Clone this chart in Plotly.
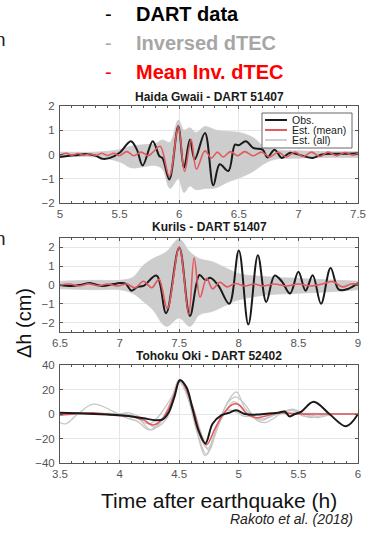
import plotly.graph_objects as go

W, H = 374, 547

# ---------------- data ----------------
# Panel 1: Haida Gwaii - DART 51407
hg_obs_t = [5.0, 5.08, 5.15, 5.22, 5.3, 5.36, 5.42, 5.5, 5.595, 5.645, 5.694, 5.778, 5.834, 5.86, 5.917,
            5.992, 6.04, 6.09, 6.13, 6.216, 6.286, 6.34, 6.412, 6.468, 6.5, 6.56, 6.62, 6.70, 6.74, 6.80,
            6.86, 6.93, 7.03, 7.12, 7.2, 7.3, 7.4, 7.5]
hg_obs_v = [-0.1, -0.05, -0.02, 0.02, -0.05, -0.18, -0.14, 0.07, 0.55, 0.2, -0.45, 0.55, -0.07, -0.15, -1.03,
            1.16, -0.55, 0.62, -0.2, 0.89, -1.27, -0.4, -0.68, 0.41, 0.38, 0.55, 0.27, 0.2, -0.12, 0.2,
            -0.14, 0.07, -0.05, -0.14, 0.0, 0.03, 0.03, 0.05]
hg_mean_t = [5.0, 5.05, 5.1, 5.15, 5.2, 5.25, 5.3, 5.35, 5.4, 5.45, 5.5, 5.56, 5.62, 5.68, 5.74, 5.78, 5.84,
             5.917, 5.992, 6.045, 6.10, 6.145, 6.216, 6.27, 6.32, 6.37, 6.43, 6.49, 6.55, 6.62, 6.69, 6.76,
             6.83, 6.9, 6.97, 7.04, 7.11, 7.18, 7.25, 7.32, 7.39, 7.46, 7.5]
hg_mean_v = [-0.05, 0.05, -0.03, 0.04, -0.03, 0.03, -0.04, 0.05, -0.04, 0.05, -0.05, 0.12, -0.05, 0.1, -0.05,
             0.1, 0.34, -0.9, 1.16, -0.7, 0.62, -0.6, 0.15, -0.15, 0.1, -0.1, 0.12, -0.05, 0.12, -0.05, 0.1,
             -0.1, 0.1, -0.1, 0.1, -0.08, 0.1, -0.08, 0.1, -0.05, 0.08, -0.03, 0.05]
hg_all_t = [5.0, 5.3, 5.5, 5.6, 5.7, 5.8, 5.86, 5.923, 5.993, 6.04, 6.09, 6.14, 6.216, 6.31, 6.40, 6.51,
            6.62, 6.705, 6.8, 7.0, 7.2, 7.5]
hg_all_hi = [0.1, 0.1, 0.2, 0.35, 0.4, 0.45, 0.6, 0.5, 1.42, 1.0, 1.1, 0.9, 1.15, 1.0, 0.95, 0.9, 0.7, 0.35,
             0.2, 0.15, 0.12, 0.12]
hg_all_lo = [-0.1, -0.1, -0.3, -0.55, -0.5, -0.45, -0.6, -1.4, -1.0, -1.57, -1.3, -1.45, -1.4, -1.37, -1.15,
             -0.95, -0.7, -0.4, -0.2, -0.15, -0.12, -0.12]

# Panel 2: Kurils - DART 51407
ku_obs_t = [6.5, 6.6, 6.68, 6.75, 6.85, 6.95, 7.0, 7.05, 7.1, 7.15, 7.2, 7.31, 7.39, 7.5, 7.59, 7.67, 7.72,
            7.76, 7.83, 7.92, 8.0, 8.08, 8.16, 8.23, 8.3, 8.36, 8.43, 8.5, 8.56, 8.62, 8.69, 8.77, 8.84, 8.92, 9.0]
ku_obs_v = [0, -0.05, 0.02, 0.1, -0.05, 0.05, 0.1, 0.07, -0.3, -0.1, -0.05, 0.5, -1.5, 2.0, -1.65, 0.53, 0.26,
            0.38, -0.05, -1.0, 1.84, -2.1, 1.58, -0.9, 0.5, 0.2, -0.45, 0.7, -0.3, 0.52, -1.0, 0.9, -0.25, -0.2, 0.1]
ku_mean_t = [6.5, 6.58, 6.66, 6.74, 6.82, 6.9, 6.98, 7.06, 7.13, 7.2, 7.27, 7.33, 7.4, 7.5, 7.58, 7.625, 7.675,
             7.73, 7.78, 7.84, 7.9, 7.97, 8.05, 8.13, 8.2, 8.3, 8.4, 8.5, 8.6, 8.7, 8.79, 8.87, 8.94, 9.0]
ku_mean_v = [0, 0.05, -0.05, 0.06, -0.04, 0.05, -0.05, 0.05, -0.15, 0.2, -0.15, 0.3, -1.25, 2.0, -1.55, 1.45,
             -0.65, 0.35, -0.2, 0.15, -0.1, 0.08, -0.05, 0.05, -0.05, 0.05, -0.05, 0.05, -0.05, 0.05, 0.18, -0.1,
             0.05, 0.05]
ku_all_t = [6.5, 6.8, 7.0, 7.11, 7.2, 7.28, 7.39, 7.5, 7.59, 7.67, 7.78, 7.9, 8.0, 8.23, 8.5, 8.79, 9.0]
ku_all_hi = [0.2, 0.25, 0.25, 0.4, 1.05, 1.4, 1.75, 2.45, 1.75, 1.4, 1.23, 0.88, 0.6, 0.44, 0.35, 0.26, 0.2]
ku_all_lo = [-0.2, -0.25, -0.25, -0.44, -0.88, -1.32, -2.2, -1.75, -2.2, -1.58, -1.4, -1.05, -0.79, -0.53,
             -0.44, -0.35, -0.25]

# Panel 3: Tohoku Oki - DART 52402
th_obs_t = [3.5, 3.7, 3.9, 4.05, 4.2, 4.3, 4.36, 4.41, 4.46, 4.505, 4.56, 4.61, 4.66, 4.72, 4.78, 4.855, 4.92,
            4.98, 5.05, 5.15, 5.25, 5.33, 5.385, 5.427, 5.47, 5.525, 5.628, 5.76, 5.9, 6.0]
th_obs_v = [1, 0.5, -0.5, -1.5, -3.5, -5, -4.5, 1, 14, 27.5, 22, 5, -13, -24, -8, -1, 1, 3, 0, -0.5, 0.5, 1, 2,
            -2, 0, 2, 10, 0, -10, 0]
th_mean_t = [3.5, 3.62, 3.78, 3.95, 4.1, 4.2, 4.28, 4.35, 4.41, 4.46, 4.51, 4.56, 4.63, 4.68, 4.73, 4.8, 4.87,
             4.95, 5.0, 5.07, 5.15, 5.25, 5.35, 5.5, 5.7, 6.0]
th_mean_v = [-1, 0, 1, -1, -2, -5, -9, -5, 4, 16, 28, 20, 0, -17, -25, -12, 0, 8, 7.5, 0, -3, -1, 1, 0, 0, 0]
th_all1_t = [3.5, 3.55, 3.65, 3.78, 3.95, 4.05, 4.15, 4.25, 4.35, 4.45, 4.5, 4.56, 4.65, 4.73, 4.82, 4.9, 4.97,
             5.05, 5.15, 5.22, 5.35, 5.45, 5.55, 5.65, 5.8, 6.0]
th_all1_v = [-7, -8, 0, 8, 2, -3, -6, -13, -5, 15, 27, 18, -15, -33, -10, 8, 14, 8, -5, -7, 0, 4, 0, -3, 0, 0]
th_all2_t = [3.5, 3.8, 4.05, 4.15, 4.27, 4.4, 4.5, 4.6, 4.72, 4.8, 4.92, 4.98, 5.05, 5.12, 5.2, 5.3, 5.45,
             5.6, 5.75, 6.0]
th_all2_v = [0, 0, 0, -3, -13, 2, 28, 5, -34, -15, 12, 18, 5, -2, -5, 0, 3, -3, 0, 0]
th_all3_t = [3.5, 3.8, 4.1, 4.25, 4.45, 4.51, 4.6, 4.7, 4.75, 4.83, 4.9, 4.97, 5.05, 5.2, 6.0]
th_all3_v = [1, 0.5, -1, -8, 16, 28, 10, -20, -30, -8, 3, 2, -2, 0, 0]
th_all4_t = [3.5, 4.0, 4.08, 4.2, 4.3, 4.4, 4.5, 4.58, 4.68, 4.74, 4.85, 4.95, 5.0, 5.1, 5.2, 5.3, 5.45, 5.55,
             5.7, 6.0]
th_all4_v = [0, 0, 1, -4, -11, -3, 26, 12, -20, -28, -5, 10, 8, -2, -4, -1, 3, -2, 0, 0]

panel_titles = ["Haida Gwaii - DART 51407", "Kurils - DART 51407", "Tohoku Oki - DART 52402"]
x_ranges = [[5, 7.5], [6.5, 9], [3.5, 6]]
y_ranges = [[-2, 2], [-2.5, 2.5], [-40, 40]]
y_dticks = [1, 1, 20]
legend_labels = ["Obs.", "Est. (mean)", "Est. (all)"]
header_labels = ["DART data", "Inversed dTEC", "Mean Inv. dTEC"]
edge_fragments = ["n", "n"]

# ---------------- style ----------------
C_OBS = "#1a1a1a"
C_MEAN = "#e25a5e"
C_ALL = "#c6c6c6"
C_BAND = "#cdcdcd"
FONT = "Liberation Sans, Arial, sans-serif"


def px(x):
    return x / W


def py(y):
    return 1 - y / H


fig = go.Figure()


def add_band(t, lo, hi, xa, ya):
    fig.add_trace(go.Scatter(x=t, y=lo, mode="lines", line=dict(color=C_BAND, width=0.8, shape="spline"),
                             xaxis=xa, yaxis=ya, showlegend=False, hoverinfo="skip"))
    fig.add_trace(go.Scatter(x=t, y=hi, mode="lines", line=dict(color=C_BAND, width=0.8, shape="spline"),
                             fill="tonexty", fillcolor=C_BAND, xaxis=xa, yaxis=ya, showlegend=False,
                             hoverinfo="skip"))


def add_line(t, v, color, width, xa, ya):
    fig.add_trace(go.Scatter(x=t, y=v, mode="lines", line=dict(color=color, width=width, shape="spline"),
                             xaxis=xa, yaxis=ya, showlegend=False))


# panel 1
add_band(hg_all_t, hg_all_lo, hg_all_hi, "x", "y")
add_line(hg_obs_t, hg_obs_v, C_OBS, 2, "x", "y")
add_line(hg_mean_t, hg_mean_v, C_MEAN, 1.6, "x", "y")
# panel 2
add_band(ku_all_t, ku_all_lo, ku_all_hi, "x2", "y2")
add_line(ku_obs_t, ku_obs_v, C_OBS, 2, "x2", "y2")
add_line(ku_mean_t, ku_mean_v, C_MEAN, 1.6, "x2", "y2")
# panel 3
for t, v in [(th_all1_t, th_all1_v), (th_all2_t, th_all2_v), (th_all3_t, th_all3_v), (th_all4_t, th_all4_v)]:
    add_line(t, v, C_ALL, 1.3, "x3", "y3")
add_line(th_mean_t, th_mean_v, C_MEAN, 1.6, "x3", "y3")
add_line(th_obs_t, th_obs_v, C_OBS, 2, "x3", "y3")

# ---------------- axes ----------------
panel_px = [(106, 203), (238, 332), (365, 463)]
x_dom = [px(60), px(358)]
tick_font = dict(family=FONT, size=11.5, color="#555555")
axis_common = dict(showline=True, linecolor="#555555", linewidth=1, mirror="ticks", ticks="inside",
                   ticklen=3, tickcolor="#555555", showgrid=True, gridcolor="#e6e6e6", gridwidth=1,
                   zeroline=False, tickfont=tick_font)
layout_axes = {}
for i in range(3):
    sfx = "" if i == 0 else str(i + 1)
    top, bot = panel_px[i]
    layout_axes["xaxis" + sfx] = dict(domain=x_dom, range=x_ranges[i], dtick=0.5, anchor="y" + sfx,
                                      minor=dict(ticks="inside", ticklen=2, dtick=0.1, tickcolor="#555555",
                                                 showgrid=False),
                                      **axis_common)
    layout_axes["yaxis" + sfx] = dict(domain=[py(bot), py(top)], range=y_ranges[i], dtick=y_dticks[i],
                                      anchor="x" + sfx, ticklabelstandoff=2, **axis_common)

fig.update_layout(width=W, height=H, margin=dict(l=0, r=0, t=0, b=0, autoexpand=False),
                  paper_bgcolor="white", plot_bgcolor="white", showlegend=False, **layout_axes)

annotations = []
shapes = []

# panel titles
title_y = [97, 227, 356]
for i in range(3):
    annotations.append(dict(text="<b>" + panel_titles[i] + "</b>", x=px(209), y=py(title_y[i]), xref="paper",
                            yref="paper", showarrow=False, xanchor="center", yanchor="middle",
                            font=dict(family=FONT, size=12, color="#1a1a1a")))

# legend box in panel 1
shapes.append(dict(type="rect", xref="paper", yref="paper", x0=px(262), x1=px(352), y0=py(148), y1=py(113),
                   line=dict(color="#666666", width=1), fillcolor="white", layer="above"))
leg_y = [120, 130, 140]
leg_col = [C_OBS, C_MEAN, "#c9d0d6"]
for k in range(3):
    shapes.append(dict(type="line", xref="paper", yref="paper", x0=px(265), x1=px(287), y0=py(leg_y[k]),
                       y1=py(leg_y[k]), line=dict(color=leg_col[k], width=2), layer="above"))
    annotations.append(dict(text=legend_labels[k], x=px(290), y=py(leg_y[k]), xref="paper", yref="paper",
                            showarrow=False, xanchor="left", yanchor="middle",
                            font=dict(family=FONT, size=10.5, color="#1a1a1a")))

# header (slide legend)
head_y = [14, 43, 72]
head_col = ["#000000", "#a6a6a6", "#ff0000"]
for k in range(3):
    annotations.append(dict(text="-", x=px(108), y=py(head_y[k]), xref="paper", yref="paper", showarrow=False,
                            xanchor="center", yanchor="middle",
                            font=dict(family=FONT, size=20, color=head_col[k])))
    annotations.append(dict(text="<b>" + header_labels[k] + "</b>", x=px(134), y=py(head_y[k]), xref="paper",
                            yref="paper", showarrow=False, xanchor="left", yanchor="middle",
                            font=dict(family=FONT, size=20, color=head_col[k])))

# clipped slide-text fragments at the left edge
for frag, yy in zip(edge_fragments, [40, 238]):
    annotations.append(dict(text=frag, x=0, y=py(yy), xref="paper", yref="paper", showarrow=False,
                            xanchor="center", yanchor="middle",
                            font=dict(family=FONT, size=19, color="#222222")))

# y label
annotations.append(dict(text="Δh (cm)", x=px(24), y=py(323), xref="paper", yref="paper", showarrow=False,
                        textangle=-90, xanchor="center", yanchor="middle",
                        font=dict(family=FONT, size=20, color="#111111")))
# x label
annotations.append(dict(text="Time after earthquake (h)", x=px(219), y=py(500), xref="paper", yref="paper",
                        showarrow=False, xanchor="center", yanchor="middle",
                        font=dict(family=FONT, size=21, color="#111111")))
# citation
annotations.append(dict(text="<i>Rakoto et al. (2018)</i>", x=px(355), y=py(519), xref="paper", yref="paper",
                        showarrow=False, xanchor="right", yanchor="middle",
                        font=dict(family=FONT, size=14, color="#222222")))

fig.update_layout(annotations=annotations, shapes=shapes)
fig.write_html("out.html")
